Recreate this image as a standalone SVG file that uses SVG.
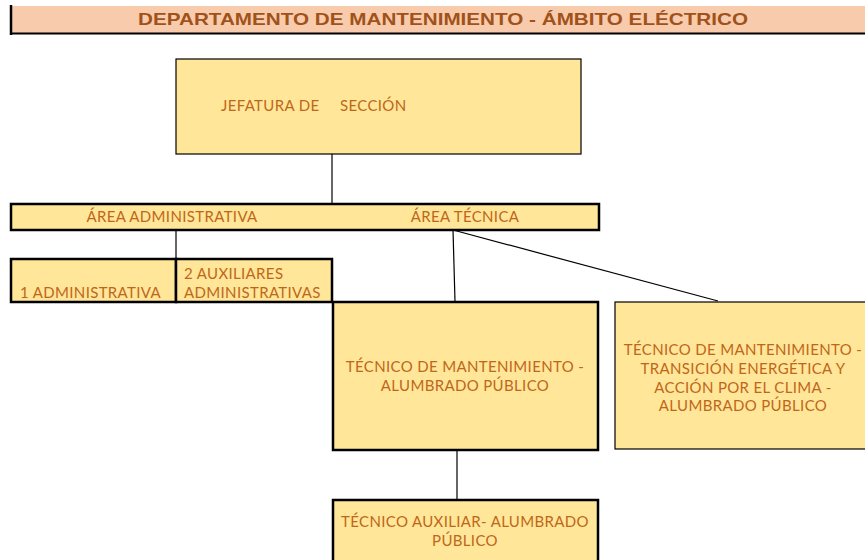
<svg xmlns="http://www.w3.org/2000/svg" width="865" height="560" viewBox="0 0 865 560">
<style>
.box{fill:#FFE699;stroke:#000;stroke-width:1.2}
.thick{stroke-width:2.5}
.t{font-family:Lato,"Open Sans","Liberation Sans",sans-serif;font-size:15px;letter-spacing:0.35px;fill:#C0661A}
.c{text-anchor:middle}
.ln{stroke:#000;stroke-width:1.2;fill:none}
</style>
<rect width="865" height="560" fill="#fff"/>
<g id="header">
<rect x="11" y="6" width="856" height="27" fill="#F8CBAD" stroke="none"/>
<line x1="11" y1="5" x2="11" y2="35" stroke="#000" stroke-width="2.5"/>
<line x1="10" y1="33.5" x2="865" y2="33.5" stroke="#000" stroke-width="2"/>
<text x="443" y="25" text-anchor="middle" font-family="'Liberation Sans',Arial,sans-serif" font-weight="bold" font-size="16.5" fill="#A0521A" textLength="610" lengthAdjust="spacingAndGlyphs">DEPARTAMENTO DE MANTENIMIENTO - ÁMBITO ELÉCTRICO</text>
</g>
<g id="connectors">
<line class="ln" x1="332" y1="154" x2="332" y2="204"/>
<line class="ln" x1="176" y1="230" x2="176" y2="258"/>
<line class="ln" x1="453" y1="230" x2="455" y2="301"/>
<line class="ln" x1="453" y1="230" x2="718" y2="301"/>
<line class="ln" x1="457" y1="450" x2="457" y2="500"/>
</g>
<g id="jefatura">
<rect class="box" x="176" y="59" width="405" height="95"/>
<text class="t" x="221" y="111">JEFATURA DE</text>
<text class="t" x="340" y="111">SECCIÓN</text>
</g>
<g id="areas">
<rect class="box thick" x="11" y="204" width="588" height="26"/>
<text class="t c" x="172" y="222">ÁREA ADMINISTRATIVA</text>
<text class="t c" x="465" y="222">ÁREA TÉCNICA</text>
</g>
<g id="administrativa">
<rect class="box thick" x="11" y="259" width="165" height="43"/>
<text class="t" x="20" y="298">1 ADMINISTRATIVA</text>
</g>
<g id="auxiliares">
<rect class="box thick" x="176" y="259" width="156" height="43"/>
<text class="t" x="184" y="279">2 AUXILIARES</text>
<text class="t" x="184" y="298">ADMINISTRATIVAS</text>
</g>
<g id="tecnico-alumbrado">
<rect class="box thick" x="333" y="302" width="265" height="148"/>
<text class="t c" x="465" y="372">TÉCNICO DE MANTENIMIENTO -</text>
<text class="t c" x="465" y="391">ALUMBRADO PÚBLICO</text>
</g>
<g id="tecnico-transicion">
<rect class="box" x="615" y="302" width="252" height="147"/>
<text class="t c" x="743" y="355">TÉCNICO DE MANTENIMIENTO -</text>
<text class="t c" x="743" y="374">TRANSICIÓN ENERGÉTICA Y</text>
<text class="t c" x="743" y="392.5">ACCIÓN POR EL CLIMA -</text>
<text class="t c" x="743" y="411">ALUMBRADO PÚBLICO</text>
</g>
<g id="tecnico-auxiliar">
<rect class="box thick" x="333" y="500" width="265" height="64"/>
<text class="t c" x="465" y="527">TÉCNICO AUXILIAR- ALUMBRADO</text>
<text class="t c" x="465" y="546">PÚBLICO</text>
</g>
</svg>
